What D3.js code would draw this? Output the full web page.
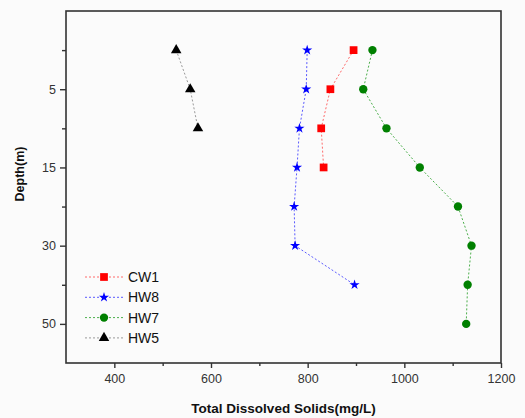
<!DOCTYPE html>
<html>
<head>
<meta charset="utf-8">
<script src="https://cdn.jsdelivr.net/npm/d3@7"></script>
<style>
  body { margin: 0; background: #fbfbfb; }
  svg { display: block; font-family: "Liberation Sans", Arial, sans-serif; }
</style>
</head>
<body>
<div id="chart"></div>
<script>
// depth categories (top to bottom), only some get a label
const depths = ["1", "5", "10", "15", "20", "30", "40", "50"]
const depthLabels = ["5", "15", "30", "50"]
const xTicks = [400, 600, 800, 1000, 1200]
const xMinor = [500, 700, 900, 1100]

// TDS values (mg/L) per depth row
const cw1 = [895, 847, 828, 833]
const hw8 = [799, 797, 783, 778, 772, 774, 897]
const hw7 = [934, 915, 963, 1032, 1111, 1139, 1131, 1128]
const hw5 = [528, 557, 573]

const series = [
    { name: "CW1", values: cw1, color: "#ff0000", line: "#ff6b6b", shape: d3.symbolSquare, size: 60 },
    { name: "HW8", values: hw8, color: "#0000ff", line: "#5a5aff", shape: d3.symbolStar, size: 32 },
    { name: "HW7", values: hw7, color: "#008000", line: "#4caf4c", shape: d3.symbolCircle, size: 55 },
    { name: "HW5", values: hw5, color: "#000000", line: "#999999", shape: d3.symbolTriangle, size: 48 }
]

const W = 525, H = 418
const pl = 66, pr = 501, pt = 11, pb = 363

const svg = d3.select("#chart")
    .append("svg")
    .attr("width", W)
    .attr("height", H)

const x = d3.scaleLinear().domain([300, 1200]).range([pl, pr])
const y = d3.scalePoint().domain(depths).range([pt, pb]).padding(1)

// frame
svg.append("rect")
    .attr("x", pl).attr("y", pt)
    .attr("width", pr - pl).attr("height", pb - pt)
    .attr("fill", "none")
    .attr("stroke", "#333")
    .attr("stroke-width", 1.6)

// x axis
const xAxis = svg.append("g")
    .attr("transform", `translate(0,${pb})`)
    .call(d3.axisBottom(x).tickValues(xTicks).tickFormat(d3.format("d")).tickSize(5).tickPadding(6))
xAxis.select(".domain").remove()
xAxis.selectAll("line").attr("stroke", "#333").attr("stroke-width", 1.4)
xAxis.selectAll("text").attr("font-size", 12.5).attr("fill", "#333")
    .attr("font-family", "Liberation Sans, Arial, sans-serif")

const xAxisMinor = svg.append("g")
    .attr("transform", `translate(0,${pb})`)
    .call(d3.axisBottom(x).tickValues(xMinor).tickSize(3).tickFormat(""))
xAxisMinor.select(".domain").remove()
xAxisMinor.selectAll("line").attr("stroke", "#333").attr("stroke-width", 1.4)

// y axis
const yAxis = svg.append("g")
    .attr("transform", `translate(${pl},0)`)
    .call(d3.axisLeft(y)
        .tickSizeOuter(0)
        .tickPadding(5)
        .tickFormat(d => depthLabels.includes(d) ? d : ""))
yAxis.select(".domain").remove()
yAxis.selectAll(".tick line")
    .attr("x2", d => depthLabels.includes(d) ? -6 : -4)
    .attr("stroke", "#333").attr("stroke-width", 1.4)
yAxis.selectAll("text").attr("font-size", 12.5).attr("fill", "#333")
    .attr("x", -10)
    .attr("font-family", "Liberation Sans, Arial, sans-serif")

// axis titles
svg.append("text")
    .attr("x", (pl + pr) / 2)
    .attr("y", 413)
    .attr("text-anchor", "middle")
    .attr("font-size", 13.5)
    .attr("font-weight", "bold")
    .attr("fill", "#111")
    .text("Total Dissolved Solids(mg/L)")

svg.append("text")
    .attr("transform", `translate(24,${(pt + pb) / 2 - 13}) rotate(-90)`)
    .attr("text-anchor", "middle")
    .attr("font-size", 12.5)
    .attr("font-weight", "bold")
    .attr("fill", "#111")
    .text("Depth(m)")

// lines and markers
const line = d3.line()
    .x(d => x(d))
    .y((d, i) => y(depths[i]))

series.forEach(s => {
    svg.append("path")
        .datum(s.values)
        .attr("d", line)
        .attr("fill", "none")
        .attr("stroke", s.line)
        .attr("stroke-width", 1)
        .attr("stroke-dasharray", "2,2")

    svg.append("g")
        .selectAll("path")
        .data(s.values)
        .enter()
        .append("path")
        .attr("transform", (d, i) => `translate(${x(d)},${y(depths[i])})`)
        .attr("d", d3.symbol().type(s.shape).size(s.size))
        .attr("fill", s.color)
})

// legend
const legend = svg.append("g")
    .attr("transform", "translate(85,277)")

const item = legend.selectAll("g")
    .data(series)
    .enter()
    .append("g")
    .attr("transform", (d, i) => `translate(0,${i * 20.3})`)

item.append("line")
    .attr("x1", 0).attr("x2", 38)
    .attr("stroke", d => d.line)
    .attr("stroke-width", 1)
    .attr("stroke-dasharray", "2,2")

item.append("path")
    .attr("transform", "translate(19,0)")
    .attr("d", d => d3.symbol().type(d.shape).size(d.size)())
    .attr("fill", d => d.color)

item.append("text")
    .attr("x", 43)
    .attr("dy", "0.36em")
    .attr("font-size", 14)
    .attr("fill", "#111")
    .text(d => d.name)
</script>
</body>
</html>
